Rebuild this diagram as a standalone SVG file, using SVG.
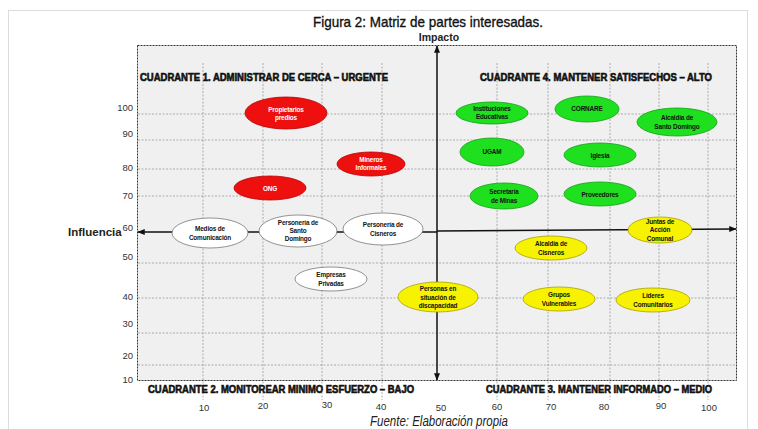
<svg xmlns="http://www.w3.org/2000/svg" width="758" height="429" viewBox="0 0 758 429">
<defs>
<marker id="ah" viewBox="0 0 10 10" refX="9" refY="5" markerWidth="5" markerHeight="5" orient="auto-start-reverse">
<path d="M0,1 L10,5 L0,9 z" fill="#111"/>
</marker>
<style>
.grid{stroke:#9a9a9a;stroke-width:0.8;stroke-dasharray:2,1.5;fill:none}
.tick{font-family:"Liberation Sans",Arial,sans-serif;font-size:9.5px;fill:#333}
.quad{font-family:"Liberation Sans",Arial,sans-serif;font-size:10.5px;font-weight:bold;fill:#111;stroke:#111;stroke-width:0.6}
.axl{font-family:"Liberation Sans",Arial,sans-serif;font-weight:bold;fill:#222}
.lbl{font-family:"Liberation Sans",Arial,sans-serif;font-size:6.4px;font-weight:bold;letter-spacing:-0.15px;text-anchor:middle;fill:#111}
.red ellipse{fill:#ee0f0f;stroke:#b80000;stroke-width:0.8}
.red text{fill:#fff}
.grn ellipse{fill:#1ee01e;stroke:#13a013;stroke-width:0.8}
.yel ellipse{fill:#f7f200;stroke:#a8a000;stroke-width:0.8}
.wht ellipse{fill:#fff;stroke:#777;stroke-width:0.8}
.axis{stroke:#111;stroke-width:1.5;fill:none}
</style>
</defs>
<rect x="0" y="0" width="758" height="429" fill="#fff"/>
<rect x="8.5" y="10.5" width="739" height="430" fill="none" stroke="#dcdcdc" stroke-width="1"/>
<text x="428" y="26.5" text-anchor="middle" font-family="'Liberation Sans',Arial,sans-serif" font-size="15" textLength="230" lengthAdjust="spacingAndGlyphs" fill="#111" stroke="#111" stroke-width="0.35">Figura 2: Matriz de partes interesadas.</text>
<text x="439" y="41" text-anchor="middle" class="axl" font-size="10.5">Impacto</text>
<text x="68" y="236" class="axl" font-size="11.5">Influencia</text>

<g id="chart">
<rect x="137.5" y="45.5" width="599" height="335" fill="#f0f0f0" stroke="#333" stroke-width="1" stroke-dasharray="2,1"/>
<g class="grid">
<path d="M138,114H736M138,140H736M138,169H736M138,196H736M138,263H736M138,298H736M138,333H736M138,365H736"/>
<path d="M203,63V400M263,63V400M322,63V400M382,63V400M497,63V400M548,63V400M610,63V400M659,63V400M708,63V400"/>
</g>
</g>

<g id="ticks" class="tick">
<g text-anchor="end">
<text x="133" y="111">100</text>
<text x="133" y="137">90</text>
<text x="133" y="171">80</text>
<text x="133" y="199">70</text>
<text x="133" y="231">60</text>
<text x="133" y="260">50</text>
<text x="133" y="300">40</text>
<text x="133" y="327">30</text>
<text x="133" y="359">20</text>
<text x="133" y="383">10</text>
</g>
<g text-anchor="middle">
<text x="204" y="411">10</text>
<text x="263" y="409">20</text>
<text x="327" y="408">30</text>
<text x="381" y="410">40</text>
<text x="441" y="411">50</text>
<text x="497" y="410">60</text>
<text x="551" y="410">70</text>
<text x="604" y="410">80</text>
<text x="661" y="409">90</text>
<text x="709" y="411">100</text>
</g>
</g>

<g id="quadrants">
<text class="quad" x="140" y="81" textLength="248" lengthAdjust="spacingAndGlyphs">CUADRANTE 1. ADMINISTRAR DE CERCA – URGENTE</text>
<text class="quad" x="480" y="81" textLength="232" lengthAdjust="spacingAndGlyphs">CUADRANTE 4. MANTENER SATISFECHOS – ALTO</text>
<text class="quad" x="148" y="393" textLength="266" lengthAdjust="spacingAndGlyphs">CUADRANTE 2. MONITOREAR MINIMO ESFUERZO – BAJO</text>
<text class="quad" x="486" y="393" textLength="226" lengthAdjust="spacingAndGlyphs">CUADRANTE 3. MANTENER INFORMADO – MEDIO</text>
</g>

<g id="connectors">
<line class="axis" x1="437" y1="220" x2="437" y2="46" marker-end="url(#ah)"/>
<line class="axis" x1="437" y1="220" x2="437" y2="380" marker-end="url(#ah)"/>
<line class="axis" x1="437" y1="232" x2="138" y2="232" marker-end="url(#ah)"/>
<line class="axis" x1="437" y1="231" x2="736" y2="229" marker-end="url(#ah)"/>
</g>

<g id="n-propietarios" class="red"><ellipse cx="286" cy="113" rx="41" ry="16"/><text class="lbl" x="286" y="111.5">Propietarios</text><text class="lbl" x="286" y="119.5">predios</text></g>
<g id="n-mineros" class="red"><ellipse cx="371" cy="164" rx="34" ry="12"/><text class="lbl" x="371" y="161.5">Mineros</text><text class="lbl" x="371" y="169.5">Informales</text></g>
<g id="n-ong" class="red"><ellipse cx="270" cy="188" rx="36" ry="12"/><text class="lbl" x="270" y="190.5">ONG</text></g>

<g id="n-medios" class="wht"><ellipse cx="210" cy="233" rx="38" ry="15"/><text class="lbl" x="210" y="231">Medios de</text><text class="lbl" x="210" y="239.5">Comunicación</text></g>
<g id="n-pers-sd" class="wht"><ellipse cx="298" cy="231" rx="39" ry="16"/><text class="lbl" x="298" y="224.5">Personería de</text><text class="lbl" x="298" y="232.5">Santo</text><text class="lbl" x="298" y="240.5">Domingo</text></g>
<g id="n-pers-cis" class="wht"><ellipse cx="383" cy="229" rx="40" ry="16"/><text class="lbl" x="383" y="227">Personería de</text><text class="lbl" x="383" y="235.5">Cisneros</text></g>
<g id="n-empresas" class="wht"><ellipse cx="331" cy="279" rx="36" ry="12"/><text class="lbl" x="331" y="277">Empresas</text><text class="lbl" x="331" y="285.5">Privadas</text></g>

<g id="n-personas" class="yel"><ellipse cx="438" cy="297" rx="40" ry="15"/><text class="lbl" x="438" y="291">Personas en</text><text class="lbl" x="438" y="299.5">situación de</text><text class="lbl" x="438" y="308">discapacidad</text></g>
<g id="n-grupos" class="yel"><ellipse cx="559" cy="299" rx="36" ry="12"/><text class="lbl" x="559" y="297">Grupos</text><text class="lbl" x="559" y="305.5">Vulnerables</text></g>
<g id="n-lideres" class="yel"><ellipse cx="653" cy="300" rx="37" ry="12"/><text class="lbl" x="653" y="298">Líderes</text><text class="lbl" x="653" y="306.5">Comunitarios</text></g>
<g id="n-alc-cis" class="yel"><ellipse cx="551" cy="248" rx="36" ry="12"/><text class="lbl" x="551" y="246">Alcaldía de</text><text class="lbl" x="551" y="254.5">Cisneros</text></g>
<g id="n-juntas" class="yel"><ellipse cx="660" cy="230" rx="32" ry="13"/><text class="lbl" x="660" y="223.5">Juntas de</text><text class="lbl" x="660" y="232">Acción</text><text class="lbl" x="660" y="240.5">Comunal</text></g>

<g id="n-instituciones" class="grn"><ellipse cx="492" cy="113" rx="36" ry="11"/><text class="lbl" x="492" y="111">Instituciones</text><text class="lbl" x="492" y="119">Educativas</text></g>
<g id="n-cornare" class="grn"><ellipse cx="587" cy="109" rx="32" ry="13"/><text class="lbl" x="587" y="111">CORNARE</text></g>
<g id="n-alc-sd" class="grn"><ellipse cx="677" cy="122" rx="40" ry="14"/><text class="lbl" x="677" y="120">Alcaldía de</text><text class="lbl" x="677" y="128.5">Santo Domingo</text></g>
<g id="n-ugam" class="grn"><ellipse cx="492" cy="152" rx="32" ry="14"/><text class="lbl" x="492" y="154">UGAM</text></g>
<g id="n-iglesia" class="grn"><ellipse cx="600" cy="155" rx="36" ry="12"/><text class="lbl" x="600" y="157.5">Iglesia</text></g>
<g id="n-secretaria" class="grn"><ellipse cx="504" cy="196" rx="34" ry="13"/><text class="lbl" x="504" y="194">Secretaría</text><text class="lbl" x="504" y="202.5">de Minas</text></g>
<g id="n-proveedores" class="grn"><ellipse cx="600" cy="194" rx="36" ry="12"/><text class="lbl" x="600" y="196.5">Proveedores</text></g>

<text x="439" y="426" text-anchor="middle" font-family="'Liberation Sans',Arial,sans-serif" font-style="italic" font-size="14" textLength="138" lengthAdjust="spacingAndGlyphs" fill="#222">Fuente: Elaboración propia</text>
</svg>
